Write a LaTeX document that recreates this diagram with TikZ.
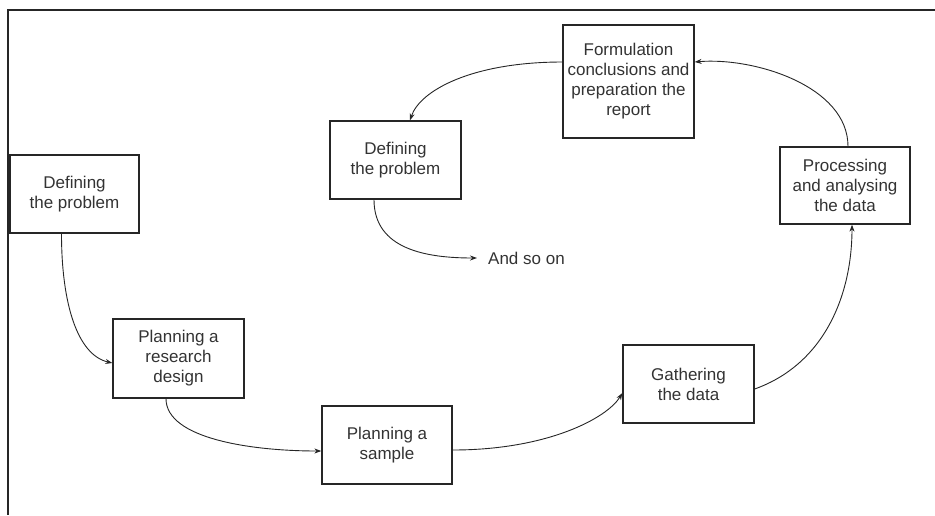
\documentclass[tikz,border=0pt]{standalone}
\usepackage{fontspec}
\setmainfont{Liberation Sans}
\usetikzlibrary{arrows.meta}
\begin{document}
\begin{tikzpicture}[x=1pt,y=-1pt,
  stepbox/.style={draw=black!85, line width=1.3pt, fill=white, inner sep=0pt,
    align=center, font=\fontsize{17}{20}\selectfont, text=black!80},
  flow/.style={draw=black!85, line width=0.9pt, -{Stealth[length=7pt,width=5pt]}}]
  \useasboundingbox (0,0) rectangle (935,515);
  % outer frame (top and left edges)
  \draw[line width=2pt, black!85] (935,10) -- (8,10) -- (8,515);

  % process steps
  \node[stepbox, minimum width=129pt, minimum height=78pt] (def1) at (74.5,194) {Defining\\the problem};
  \node[stepbox, minimum width=131pt, minimum height=79pt] (design) at (178.5,358.5) {Planning a\\research\\design};
  \node[stepbox, minimum width=130pt, minimum height=78pt] (sample) at (387,445) {Planning a\\sample};
  \node[stepbox, minimum width=131pt, minimum height=78pt] (gather) at (688.5,384) {Gathering\\the data};
  \node[stepbox, minimum width=130pt, minimum height=77pt] (proc) at (845,185.5) {Processing\\and analysing\\the data};
  \node[stepbox, minimum width=131pt, minimum height=113pt] (concl) at (628.5,81.5) {Formulation\\conclusions and\\preparation the\\report};
  \node[stepbox, minimum width=131pt, minimum height=78pt] (def2) at (395.5,160) {Defining\\the problem};
  \node[anchor=west, inner sep=0pt, font=\fontsize{17}{20}\selectfont, text=black!80] (more) at (488,258) {And so on};

  % connectors
  \draw[flow] ([xshift=-13pt]def1.south) .. controls +(0,70) and +(-35,-8) .. ([yshift=-4.5pt]design.west);
  \draw[flow] ([xshift=-12.5pt]design.south) .. controls +(0,40) and +(-70,0) .. ([yshift=-6pt]sample.west);
  \draw[flow] ([yshift=-5pt]sample.east) .. controls +(95,0) and +(-15,25) .. ([yshift=-9pt]gather.west);
  \draw[flow] ([yshift=-5pt]gather.east) .. controls +(70,-25) and +(0,70) .. ([xshift=7pt]proc.south);
  \draw[flow] ([xshift=3pt]proc.north) .. controls +(0,-60) and +(60,-5) .. ([yshift=19.5pt]concl.east);
  \draw[flow] ([yshift=19.5pt]concl.west) .. controls +(-90,0) and +(10,-30) .. ([xshift=14.5pt]def2.north);
  \draw[flow] ([xshift=-21.5pt]def2.south) .. controls +(0,50) and +(-50,0) .. ([xshift=-11pt]more.west);
\end{tikzpicture}
\end{document}
